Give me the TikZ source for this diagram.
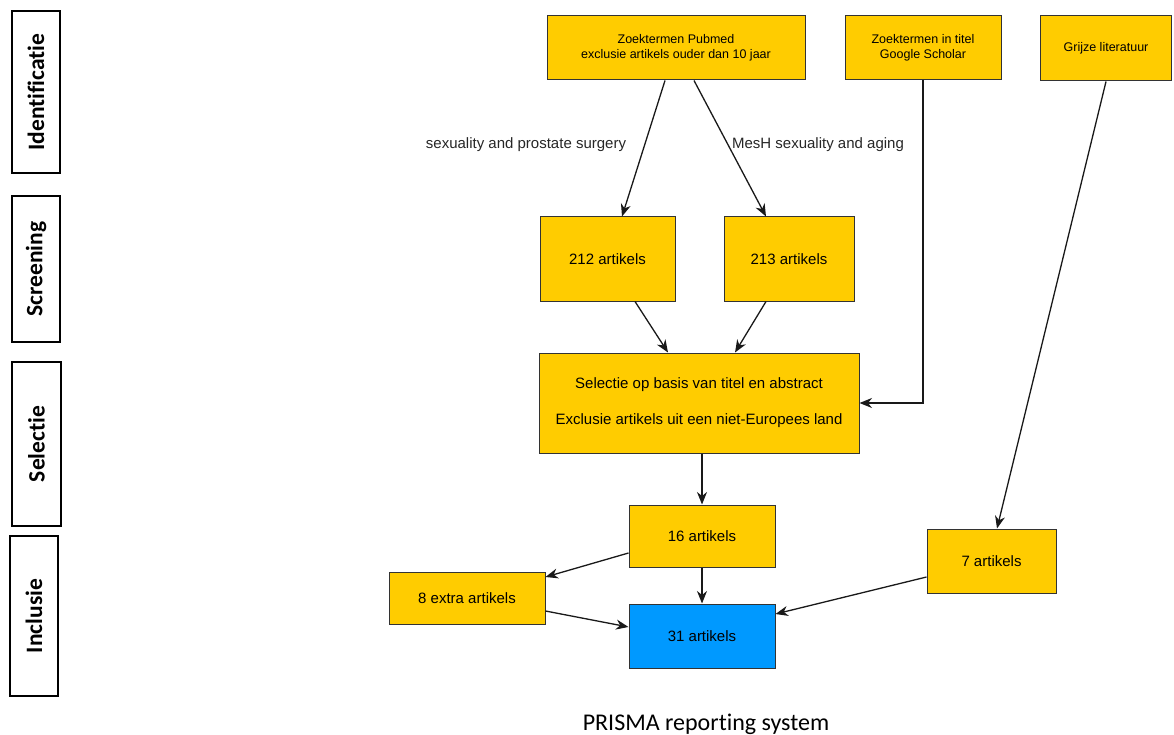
\documentclass[tikz,border=0pt]{standalone}
\usepackage{fontspec}
\setmainfont{Liberation Sans}
\newfontfamily\calibri[Ligatures=NoCommon]{Carlito}
\usetikzlibrary{arrows.meta}
\definecolor{boxyellow}{HTML}{FFCC00}
\definecolor{boxblue}{HTML}{0099FF}
\definecolor{edgegray}{HTML}{333333}
\begin{document}
\begin{tikzpicture}[x=1pt,y=-1pt,
  ybox/.style={draw=edgegray, line width=1pt, fill=boxyellow, rectangle, inner sep=2pt, align=center, font=\fontsize{15}{18}\selectfont},
  sbox/.style={ybox, font=\fontsize{12.5}{15}\selectfont},
  bbox/.style={ybox, fill=boxblue},
  lab/.style={draw=black, line width=1.8pt, rectangle, inner sep=0pt, font=\calibri\bfseries\fontsize{23.5}{26}\selectfont},
  arr/.style={draw=black!90, line width=1.3pt, -{Stealth[length=12.5pt,width=10pt,inset=4pt]}},
  elab/.style={font=\fontsize{15}{18}\selectfont, text=black!85}
]
\useasboundingbox (0,0) rectangle (1174,735);

% phase labels
\node[lab, minimum width=48, minimum height=162] (id) at (36,92) {\rotatebox{90}{Identificatie}};
\node[lab, minimum width=48, minimum height=146] (sc) at (36,269) {\rotatebox{90}{Screening}};
\node[lab, minimum width=49, minimum height=164] (se) at (36.5,444) {\rotatebox{90}{Selectie}};
\node[lab, minimum width=48, minimum height=160] (in) at (34,616) {\rotatebox{90}{Inclusie}};

% boxes
\node[sbox, minimum width=258, minimum height=64] (pub) at (676,48) {Zoektermen Pubmed\\exclusie artikels ouder dan 10 jaar};
\node[sbox, minimum width=156, minimum height=64] (gs) at (923,48) {Zoektermen in titel\\Google Scholar};
\node[sbox, minimum width=131, minimum height=65] (gr) at (1106,48.5) {Grijze literatuur};
\node[ybox, minimum width=135, minimum height=84] (n212) at (607.5,259) {212 artikels};
\node[ybox, minimum width=130, minimum height=84] (n213) at (789,259) {213 artikels};
\node[ybox, minimum width=320, minimum height=100] (sel) at (699,403) {Selectie op basis van titel en abstract\\ \\Exclusie artikels uit een niet-Europees land};
\node[ybox, minimum width=146, minimum height=62] (n16) at (702,536) {16 artikels};
\node[ybox, minimum width=156, minimum height=52] (n8) at (467,598) {8 extra artikels};
\node[bbox, minimum width=146, minimum height=64] (n31) at (702,636) {31 artikels};
\node[ybox, minimum width=129, minimum height=64] (n7) at (991.5,561) {7 artikels};

% connectors
\draw[arr] ([xshift=-11pt]pub.south) -- ([xshift=14.5pt]n212.north);
\draw[arr] ([xshift=18pt]pub.south) -- ([xshift=-23pt]n213.north);
\draw[arr] (gs.south) |- (sel.east);
\draw[arr] (gr.south) -- ([xshift=5.5pt]n7.north);
\draw[arr] ([xshift=27.5pt]n212.south) -- ([xshift=-31pt]sel.north);
\draw[arr] ([xshift=-23pt]n213.south) -- ([xshift=36pt]sel.north);
\draw[arr] (n16.north |- sel.south) -- (n16.north);
\draw[arr] ([yshift=-17pt]n16.west) -- ([yshift=21pt]n8.east);
\draw[arr] (n16.south) -- (n31.north);
\draw[arr] ([yshift=-13pt]n8.east) -- ([yshift=9pt]n31.west);
\draw[arr] ([yshift=-16pt]n7.west) -- ([yshift=22pt]n31.east);

% edge labels
\node[elab] (l1) at (526,145) {sexuality and prostate surgery};
\node[elab] (l2) at (818,145) {MesH sexuality and aging};

% caption
\node[font=\calibri\fontsize{24}{28}\selectfont] (cap) at (706,724) {PRISMA reporting system};
\end{tikzpicture}
\end{document}
